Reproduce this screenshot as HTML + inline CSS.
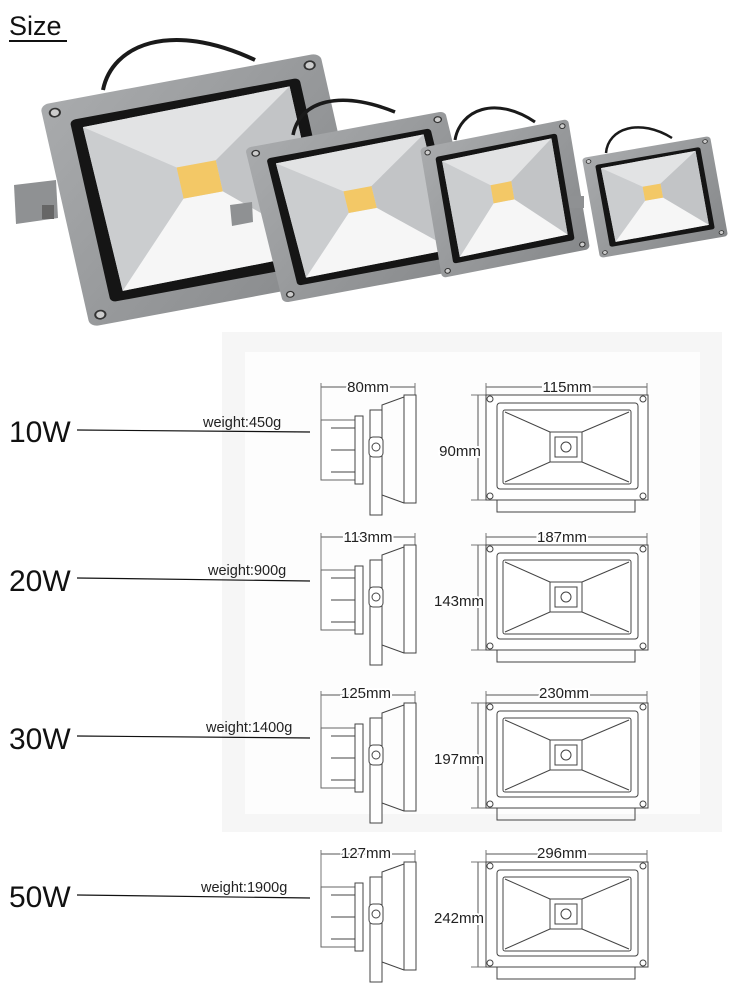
<!DOCTYPE html>
<html><head><meta charset="utf-8"><style>
html,body{margin:0;padding:0;background:#fff;}
svg{display:block;font-family:"Liberation Sans",sans-serif;}
</style></head><body>
<svg width="750" height="998" viewBox="0 0 750 998" xmlns="http://www.w3.org/2000/svg">
<defs>
<linearGradient id="fr" x1="0" y1="0" x2="1" y2="1"><stop offset="0" stop-color="#a9abad"/><stop offset="1" stop-color="#86888a"/></linearGradient>
<g id="lamp">
  <rect x="0" y="0" width="100" height="100" rx="3" fill="url(#fr)"/>
  <rect x="9" y="9" width="82" height="82" rx="2" fill="#151515"/>
  <polygon points="13,13 87,12 87,86 14,87" fill="#d6d8da"/>
  <polygon points="13,13 87,12 56,38 42,38" fill="#e2e3e4"/>
  <polygon points="13,13 42,38 42,52 14,87" fill="#cbcdcf"/>
  <polygon points="87,12 56,38 56,52 87,86" fill="#c2c4c6"/>
  <polygon points="42,52 56,52 87,86 14,87" fill="#f6f6f6"/>
  <rect x="42" y="38" width="14" height="14" fill="#f3c866"/>
  <circle cx="4.5" cy="4.5" r="1.8" fill="#ccc" stroke="#333" stroke-width="0.7"/>
  <circle cx="95.5" cy="4.5" r="1.8" fill="#ccc" stroke="#333" stroke-width="0.7"/>
  <circle cx="4.5" cy="95.5" r="1.8" fill="#ccc" stroke="#333" stroke-width="0.7"/>
  <circle cx="95.5" cy="95.5" r="1.8" fill="#ccc" stroke="#333" stroke-width="0.7"/>
</g>
<g id="row" fill="none" stroke="#444" stroke-width="1">
  <line x1="321" y1="387" x2="415" y2="387" stroke="#555"/>
  <line x1="321" y1="383" x2="321" y2="420" stroke="#777"/>
  <line x1="415" y1="383" x2="415" y2="395" stroke="#777"/>
  <rect x="404" y="395" width="12" height="108" fill="#fff"/>
  <polyline points="404,397 382,405 382,495 404,503"/>
  <rect x="370" y="410" width="12" height="105" fill="#fff"/>
  <rect x="321" y="420" width="34" height="60" fill="#fff" stroke="#666"/>
  <rect x="355" y="416" width="8" height="68" fill="#fff"/>
  <line x1="331" y1="428" x2="355" y2="428"/><line x1="331" y1="450" x2="355" y2="450"/><line x1="331" y1="472" x2="355" y2="472"/>
  <rect x="369" y="437" width="14" height="20" rx="4" fill="#fff"/>
  <circle cx="376" cy="447" r="4"/>
  <line x1="486" y1="387" x2="647" y2="387" stroke="#555"/>
  <line x1="486" y1="383" x2="486" y2="395" stroke="#777"/>
  <line x1="647" y1="383" x2="647" y2="395" stroke="#777"/>
  <line x1="478" y1="395" x2="478" y2="500" stroke="#555"/>
  <line x1="471" y1="395" x2="486" y2="395" stroke="#777"/>
  <line x1="471" y1="500" x2="486" y2="500" stroke="#777"/>
  <rect x="486" y="395" width="162" height="105" fill="#fff"/>
  <rect x="497" y="403" width="141" height="86" rx="3"/>
  <rect x="503" y="410" width="128" height="74" rx="2"/>
  <rect x="550" y="432" width="32" height="30"/>
  <rect x="555" y="437" width="22" height="20"/>
  <circle cx="566" cy="447" r="5"/>
  <line x1="505" y1="412" x2="550" y2="432"/><line x1="629" y1="412" x2="582" y2="432"/>
  <line x1="505" y1="482" x2="550" y2="462"/><line x1="629" y1="482" x2="582" y2="462"/>
  <circle cx="490" cy="399" r="3"/><circle cx="643" cy="399" r="3"/>
  <circle cx="490" cy="496" r="3"/><circle cx="643" cy="496" r="3"/>
  <polyline points="497,500 497,512 635,512 635,500"/>
</g>
</defs>

<rect x="222" y="332" width="500" height="500" fill="#f6f6f6"/>
<rect x="245" y="352" width="455" height="462" fill="#fdfdfd"/>

<text x="9" y="35" font-size="27" fill="#111">Size</text>
<line x1="9" y1="41" x2="67" y2="41" stroke="#111" stroke-width="2"/>

<path d="M103,90 C112,45 170,20 255,60" fill="none" stroke="#1a1a1a" stroke-width="4"/>
<polygon points="14,185 56,180 58,218 16,224" fill="#8f9193"/>
<rect x="42" y="205" width="12" height="14" fill="#666"/>
<use href="#lamp" transform="matrix(2.8,-0.52,0.5,2.22,40,105)"/>
<path d="M293,135 C300,100 340,90 395,112" fill="none" stroke="#1a1a1a" stroke-width="3.5"/>
<polygon points="230,205 252,202 253,222 232,226" fill="#8f9193"/>
<use href="#lamp" transform="matrix(2.0,-0.37,0.38,1.55,245,148)"/>
<path d="M455,140 C460,110 495,95 535,122" fill="none" stroke="#1a1a1a" stroke-width="3"/>
<use href="#lamp" transform="matrix(1.48,-0.29,0.22,1.30,420,148)"/>
<path d="M606,153 C608,128 640,118 672,138" fill="none" stroke="#1a1a1a" stroke-width="2.5"/>
<rect x="570" y="196" width="14" height="12" fill="#8f9193"/>
<use href="#lamp" transform="matrix(1.28,-0.22,0.18,1.0,582,158)"/>

<g>
  <use href="#row"/>
  <text x="368" y="392" font-size="15" text-anchor="middle" fill="#222" style="paint-order:stroke" stroke="#fff" stroke-width="4">80mm</text>
  <text x="567" y="392" font-size="15" text-anchor="middle" fill="#222" style="paint-order:stroke" stroke="#fff" stroke-width="4">115mm</text>
  <text x="460" y="456" font-size="15" text-anchor="middle" fill="#222" style="paint-order:stroke" stroke="#fff" stroke-width="4">90mm</text>
  <text x="9" y="442" font-size="30" fill="#111">10W</text>
  <line x1="77" y1="430" x2="310" y2="432" stroke="#111" stroke-width="1.2"/>
  <text x="203" y="427" font-size="14.5" fill="#222">weight:450g</text>
</g>
<g transform="translate(0,150)">
  <use href="#row"/>
  <text x="368" y="392" font-size="15" text-anchor="middle" fill="#222" style="paint-order:stroke" stroke="#fff" stroke-width="4">113mm</text>
  <text x="562" y="392" font-size="15" text-anchor="middle" fill="#222" style="paint-order:stroke" stroke="#fff" stroke-width="4">187mm</text>
  <text x="459" y="456" font-size="15" text-anchor="middle" fill="#222" style="paint-order:stroke" stroke="#fff" stroke-width="4">143mm</text>
  <text x="9" y="441" font-size="30" fill="#111">20W</text>
  <line x1="77" y1="428" x2="310" y2="431" stroke="#111" stroke-width="1.2"/>
  <text x="208" y="425" font-size="14.5" fill="#222">weight:900g</text>
</g>
<g transform="translate(0,308)">
  <use href="#row"/>
  <text x="366" y="390" font-size="15" text-anchor="middle" fill="#222" style="paint-order:stroke" stroke="#fff" stroke-width="4">125mm</text>
  <text x="564" y="390" font-size="15" text-anchor="middle" fill="#222" style="paint-order:stroke" stroke="#fff" stroke-width="4">230mm</text>
  <text x="459" y="456" font-size="15" text-anchor="middle" fill="#222" style="paint-order:stroke" stroke="#fff" stroke-width="4">197mm</text>
  <text x="9" y="441" font-size="30" fill="#111">30W</text>
  <line x1="77" y1="428" x2="310" y2="430" stroke="#111" stroke-width="1.2"/>
  <text x="206" y="424" font-size="14.5" fill="#222">weight:1400g</text>
</g>
<g transform="translate(0,467)">
  <use href="#row"/>
  <text x="366" y="391" font-size="15" text-anchor="middle" fill="#222" style="paint-order:stroke" stroke="#fff" stroke-width="4">127mm</text>
  <text x="562" y="391" font-size="15" text-anchor="middle" fill="#222" style="paint-order:stroke" stroke="#fff" stroke-width="4">296mm</text>
  <text x="459" y="456" font-size="15" text-anchor="middle" fill="#222" style="paint-order:stroke" stroke="#fff" stroke-width="4">242mm</text>
  <text x="9" y="440" font-size="30" fill="#111">50W</text>
  <line x1="77" y1="428" x2="310" y2="431" stroke="#111" stroke-width="1.2"/>
  <text x="201" y="425" font-size="14.5" fill="#222">weight:1900g</text>
</g>
</svg>
</body></html>
